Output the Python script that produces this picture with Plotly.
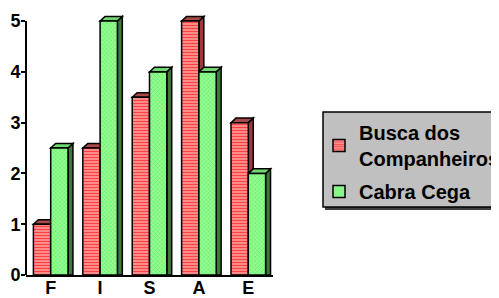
import plotly.graph_objects as go

categories = ["F", "I", "S", "A", "E"]
busca = [1, 2.5, 3.5, 5, 3]
cabra = [2.5, 5, 4, 4, 2]
series_names = ["Busca dos<br>Companheiros", "Cabra Cega"]
y_ticks = [0, 1, 2, 3, 4, 5]

FONT = "Arial, 'Liberation Sans', sans-serif"
BARGAP = 0.3
half = (1 - BARGAP) / 2   # width of one bar in category units
DX = 0.1                  # 3D depth, x
DY = 0.09                 # 3D depth, y

# page body has an 8px margin; lay the figure out in window pixels minus that offset
OFF = 8
W, H = 499 - OFF, 298 - OFF
pl, pw, pt, ph = 26 - OFF, 247, 15 - OFF, 260

def px(x): return (x - OFF - pl) / pw
def py(y): return (pt + ph - (y - OFF)) / ph

fig = go.Figure()
fig.add_trace(go.Bar(
    x=list(range(len(categories))), y=busca, name=series_names[0], legendgroup="a",
    marker=dict(color="#ff9a9a", line=dict(color="black", width=1.5),
                pattern=dict(shape="-", size=3, solidity=0.5,
                             fgcolor="#ff4040", bgcolor="#ffa4a4", fillmode="replace")),
))
fig.add_trace(go.Bar(
    x=list(range(len(categories))), y=cabra, name=series_names[1], legendgroup="b",
    marker=dict(color="#90ff90", line=dict(color="black", width=1.5),
                pattern=dict(shape="x", size=3, solidity=0.25,
                             fgcolor="#60d860", bgcolor="#90ff90", fillmode="replace")),
))

shapes = []
def faces(vals, offset, side_col, top_col):
    for i, v in enumerate(vals):
        x0 = i + offset
        x1 = x0 + half
        shapes.append(dict(type="path", layer="below",
            path=f"M{x1},0 L{x1},{v} L{x1+DX},{v+DY} L{x1+DX},0 Z",
            fillcolor=side_col, line=dict(color="black", width=1.5)))
        shapes.append(dict(type="path", layer="below",
            path=f"M{x0},{v} L{x1},{v} L{x1+DX},{v+DY} L{x0+DX},{v+DY} Z",
            fillcolor=top_col, line=dict(color="black", width=1.5)))

faces(busca, -half, "#a03a3a", "#a84848")
faces(cabra, 0, "#3a7a3a", "#70d870")

shapes.append(dict(type="line", xref="paper", yref="y", x0=0, x1=0, y0=0, y1=y_ticks[-1],
                   line=dict(color="black", width=2), layer="above"))

shapes.append(dict(type="rect", xref="paper", yref="paper", layer="below",
                   x0=px(325), x1=px(510), y0=py(210), y1=py(114),
                   fillcolor="#404040", line=dict(width=0)))
shapes.append(dict(type="rect", xref="paper", yref="paper", layer="below",
                   x0=px(323), x1=px(508), y0=py(207), y1=py(112),
                   fillcolor="#c0c0c0", line=dict(color="black", width=1.5)))

fig.update_layout(
    width=W, height=H,
    margin=dict(l=pl, r=W - pl - pw, t=pt, b=H - pt - ph, autoexpand=False),
    paper_bgcolor="white", plot_bgcolor="white",
    barmode="group", bargap=BARGAP, bargroupgap=0,
    shapes=shapes,
    showlegend=True,
    legend=dict(x=px(319), y=py(113), xanchor="left", yanchor="top",
                bgcolor="rgba(0,0,0,0)", borderwidth=0, traceorder="grouped",
                font=dict(family=FONT, size=20, color="black", weight="bold"),
                tracegroupgap=4),
    font=dict(family=FONT, color="black"),
)
fig.update_xaxes(range=[-0.5, len(categories) - 0.5], tickmode="array",
                 tickvals=list(range(len(categories))), ticktext=categories,
                 showline=True, linecolor="black", linewidth=2, ticks="",
                 showgrid=False, zeroline=False, ticklabelstandoff=-5, automargin=False,
                 tickfont=dict(family=FONT, size=18, color="black", weight="bold"))
fig.update_yaxes(range=[0, 5.12], tickmode="array", tickvals=y_ticks,
                 showline=False, ticks="outside", ticklen=4, tickwidth=2, tickcolor="black",
                 showgrid=False, zeroline=False, automargin=False, ticklabelstandoff=-3,
                 tickfont=dict(family=FONT, size=18, color="black", weight="bold"))

fig.write_html("out.html")
